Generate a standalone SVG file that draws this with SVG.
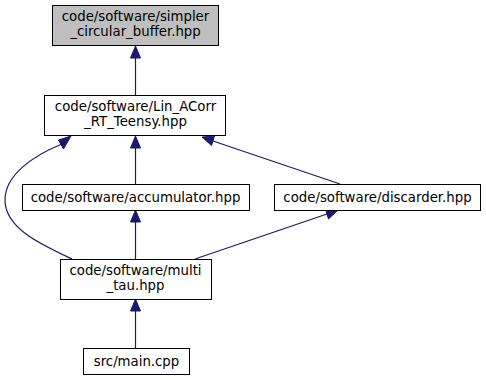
<svg xmlns="http://www.w3.org/2000/svg" width="486" height="380" viewBox="0 0 486 380">
  <style>
    .node rect { fill: #ffffff; stroke: #000000; stroke-width: 1; }
    .node.root rect { fill: #bfbfbf; }
    .node text { font-family: "DejaVu Sans", "Liberation Sans", sans-serif; font-size: 13.3px; fill: #000000; text-anchor: middle; }
    .edge { fill: none; stroke: #191970; stroke-width: 1.2; }
    .head { fill: #191970; stroke: #191970; stroke-width: 1; }
  </style>
  <rect width="486" height="380" fill="#ffffff"/>

  <g id="connectors">
    <!-- Lin_ACorr_RT_Teensy.hpp -> simpler_circular_buffer.hpp -->
    <path class="edge" d="M135.5,95 V57"/>
    <polygon class="head" points="135.5,46 130.5,58 140.5,58"/>
    <!-- accumulator.hpp -> Lin_ACorr_RT_Teensy.hpp -->
    <path class="edge" d="M135.5,184 V147"/>
    <polygon class="head" points="135.5,136 130.5,148 140.5,148"/>
    <!-- discarder.hpp -> Lin_ACorr_RT_Teensy.hpp -->
    <path class="edge" d="M340,184 L213,141"/>
    <polygon class="head" points="202,137 211.5,145.5 214.5,136"/>
    <!-- multi_tau.hpp -> Lin_ACorr_RT_Teensy.hpp -->
    <path class="edge" d="M72,259 C40,244 5,228 5,200 C5,174 35,155 62,144"/>
    <polygon class="head" points="71,136 58.5,140 63.5,149"/>
    <!-- multi_tau.hpp -> accumulator.hpp -->
    <path class="edge" d="M135.5,259 V221"/>
    <polygon class="head" points="135.5,210 130.5,222 140.5,222"/>
    <!-- multi_tau.hpp -> discarder.hpp -->
    <path class="edge" d="M195,259 L327,214"/>
    <polygon class="head" points="338,210 325.5,209.5 328.5,219"/>
    <!-- main.cpp -> multi_tau.hpp -->
    <path class="edge" d="M135.5,348 V310"/>
    <polygon class="head" points="135.5,299 130.5,311 140.5,311"/>
  </g>

  <g id="node_simpler_circular_buffer" class="node root">
    <rect x="52.5" y="5.5" width="166" height="40"/>
    <text x="135.5" y="21">code/software/simpler</text>
    <text x="135.5" y="36">_circular_buffer.hpp</text>
  </g>
  <g id="node_lin_acorr_rt_teensy" class="node">
    <rect x="44.5" y="95.5" width="181" height="40"/>
    <text x="135.5" y="111">code/software/Lin_ACorr</text>
    <text x="135.5" y="126">_RT_Teensy.hpp</text>
  </g>
  <g id="node_accumulator" class="node">
    <rect x="22.5" y="184.5" width="227" height="26"/>
    <text x="135.5" y="202">code/software/accumulator.hpp</text>
  </g>
  <g id="node_discarder" class="node">
    <rect x="274.5" y="184.5" width="206" height="26"/>
    <text x="377.5" y="202">code/software/discarder.hpp</text>
  </g>
  <g id="node_multi_tau" class="node">
    <rect x="60.5" y="259.5" width="151" height="40"/>
    <text x="135.5" y="275">code/software/multi</text>
    <text x="135.5" y="290">_tau.hpp</text>
  </g>
  <g id="node_main" class="node">
    <rect x="83.5" y="348.5" width="106" height="26"/>
    <text x="136.5" y="366">src/main.cpp</text>
  </g>
</svg>
